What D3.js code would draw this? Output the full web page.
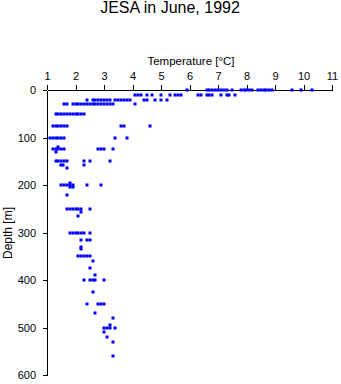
<!DOCTYPE html>
<html><head><meta charset="utf-8">
<script src="https://cdn.jsdelivr.net/npm/d3@7"></script>
<style>body{margin:0;background:#fff}svg{display:block}text{font-family:"Liberation Sans",Arial,sans-serif}</style>
</head><body>
<script>
const title = "JESA in June, 1992";
const xTitle = "Temperature [\u00B0C]";
const yTitle = "Depth [m]";
const xTicks = [1,2,3,4,5,6,7,8,9,10,11];
const yTicks = [0,100,200,300,400,500,600];

// depth levels (m) and temperatures (°C) observed at each level
const depths = [0,10,20,30,50,75,100,120,125,131,150,158,165,196,200,205,220,250,256,266,300,315,330,334,350,360,375,390,400,425,450,470,481,495,500,510,521,531,560];
const temps = [
 [5.9,6.6,6.7,6.8,6.9,7.0,7.1,7.2,7.3,7.5,7.8,7.9,8.0,8.1,8.2,8.4,8.5,8.6,8.7,8.8,8.9,9.6,9.9,10.3],
 [4.1,4.2,4.3,4.5,4.7,5.0,5.3,5.5,5.6,5.7,6.3,6.4,6.6,6.7,6.8,7.1,7.3,7.4,7.6],
 [2.4,2.6,2.7,2.8,2.9,3.0,3.1,3.2,3.4,3.5,3.6,3.7,3.8,3.9,4.4,4.5,4.8,5.0,5.2],
 [1.6,1.7,1.9,2.0,2.1,2.2,2.3,2.4,2.5,2.6,2.7,2.8,2.9,3.0,3.1,3.2,3.3,4.1],
 [1.3,1.4,1.5,1.6,1.7,1.8,1.9,2.0,2.1,2.2,2.3],
 [1.2,1.3,1.4,1.5,1.6,1.7,3.6,3.7,4.6],
 [1.1,1.2,1.3,1.4,1.5,1.6,3.4,3.8],
 [1.4],
 [1.2,1.3,1.4,1.5,1.6,2.8,2.9,3.0,3.3],
 [1.3],
 [1.3,1.4,1.5,1.6,1.7,2.3,2.5,3.2],
 [1.5,1.55,2.3],
 [1.7],
 [1.8],
 [1.5,1.6,1.7,1.8,1.9,2.4,2.9],
 [1.8,1.9],
 [1.7],
 [1.7,1.8,1.9,2.0,2.1,2.2,2.5],
 [2.2],
 [2.1],
 [1.8,1.9,2.0,2.1,2.2,2.3,2.5],
 [2.2,2.4,2.5],
 [2.2],
 [2.2],
 [2.1,2.2,2.3,2.4,2.5],
 [2.6],
 [2.5],
 [2.7],
 [2.3,2.5,2.6,2.7,3.0],
 [2.6],
 [2.4,2.8,2.9,3.0],
 [2.7],
 [3.3],
 [3.2],
 [3.0,3.1,3.2,3.4],
 [3.0],
 [3.1],
 [3.3],
 [3.3]
];

const points = [];
depths.forEach((d,i)=>temps[i].forEach(t=>points.push({depth:d,temp:t})));

const W=341,H=384;
const svg=d3.select("body").append("svg").attr("width",W).attr("height",H);
const x=d3.scaleLinear().domain([1,11]).range([47,332]);
const y=d3.scaleLinear().domain([0,600]).range([90,375]);

svg.append("text").attr("x",170).attr("y",13).attr("text-anchor","middle")
  .attr("font-size",16).text(title);
svg.append("text").attr("x",191).attr("y",65).attr("text-anchor","middle")
  .attr("font-size",11.5).text(xTitle);
svg.append("text").attr("transform","translate(12,233) rotate(-90)").attr("text-anchor","middle")
  .attr("font-size",12).text(yTitle);

const xa=svg.append("g").attr("transform","translate(0,90)")
  .call(d3.axisTop(x).tickValues(xTicks).tickFormat(d3.format("d")).tickSize(5).tickSizeOuter(0).tickPadding(5));
const ya=svg.append("g").attr("transform","translate(47,0)")
  .call(d3.axisLeft(y).tickValues(yTicks).tickFormat(d3.format("d")).tickSize(4).tickSizeOuter(0).tickPadding(7));
[xa,ya].forEach(g=>{
  g.selectAll("text").attr("font-size",11).attr("font-family","Liberation Sans, Arial, sans-serif").attr("fill","#000");
  g.selectAll("line,path").attr("stroke","#000").attr("shape-rendering","crispEdges");
});
ya.selectAll("text").attr("dy","0.35em");

svg.append("g").selectAll("rect").data(points).join("rect")
  .attr("x",d=>Math.round(x(d.temp))-1.5)
  .attr("y",d=>Math.round(y(d.depth))-1.5)
  .attr("width",3).attr("height",3)
  .attr("fill","#0000ff");
</script>
</body></html>
